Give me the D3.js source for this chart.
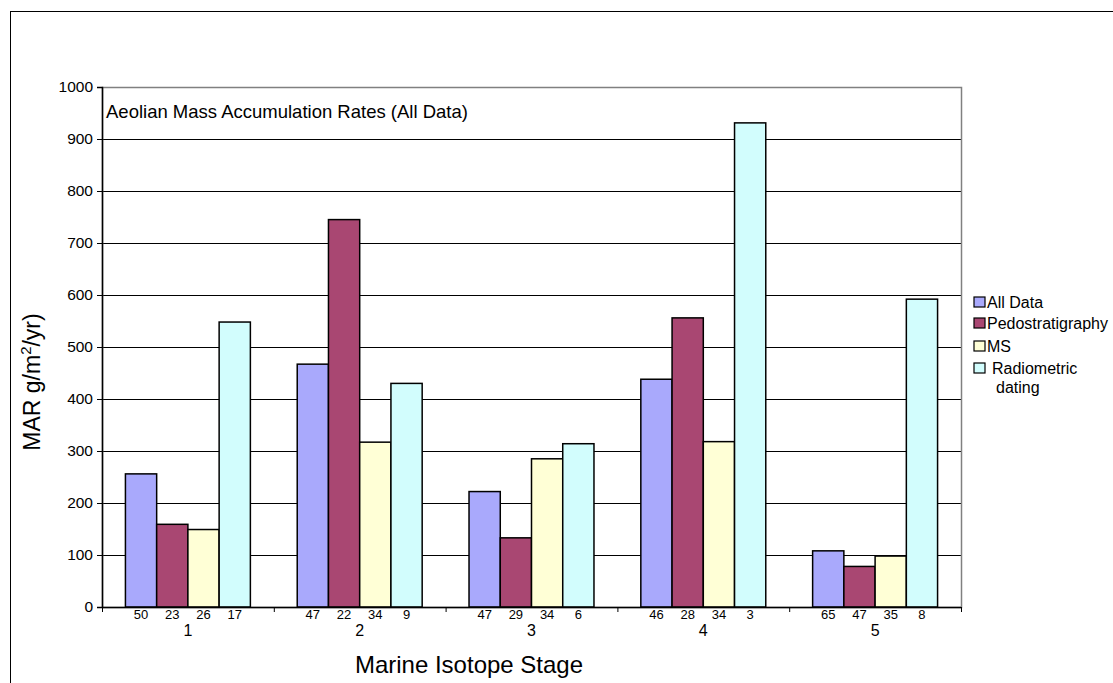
<!DOCTYPE html>
<html><head><meta charset="utf-8">
<script src="https://cdn.jsdelivr.net/npm/d3@7"></script>
<style>body{margin:0;background:#fff;} text{font-family:"Liberation Sans",Arial,sans-serif;}</style>
</head><body>
<svg id="c" width="1113" height="683"></svg>
<script>
const stages = ["1","2","3","4","5"];
const seriesNames = ["All Data","Pedostratigraphy","MS","Radiometric dating"];
const allData = [256, 467, 222, 438, 108];
const pedostratigraphy = [159, 745, 133, 556, 78];
const ms = [149, 317, 285, 318, 98];
const radiometric = [548, 430, 314, 931, 592];
const counts = [[50,23,26,17],[47,22,34,9],[47,29,34,6],[46,28,34,3],[65,47,35,8]];
const yTicks = [0,100,200,300,400,500,600,700,800,900,1000];
const colors = ["#a9a9fc","#a94772","#ffffd6","#d2fdfd"];

const values = [allData, pedostratigraphy, ms, radiometric];
const svg = d3.select("#c");
const L=102, R=961, T=87, B=607;

svg.append("rect").attr("x",10.5).attr("y",11.5).attr("width",1120).attr("height",700)
  .attr("fill","none").attr("stroke","#000").attr("stroke-width",1);

const x0 = d3.scaleBand().domain(stages).range([L,R]).paddingInner(0).paddingOuter(0);
const x1 = d3.scaleBand().domain(d3.range(4)).range([0,x0.bandwidth()]).paddingOuter(0.75).paddingInner(0);
const y = d3.scaleLinear().domain([0,1000]).range([B,T]);

// gridlines
svg.append("g").selectAll("line").data(yTicks.filter(d=>d>0&&d<1000)).join("line")
  .attr("x1",L).attr("x2",R).attr("y1",d=>Math.round(y(d))+0.5).attr("y2",d=>Math.round(y(d))+0.5)
  .attr("stroke","#000").attr("stroke-width",1);
// plot border
svg.append("rect").attr("x",L+0.5).attr("y",T+0.5).attr("width",R-L).attr("height",B-T)
  .attr("fill","none").attr("stroke","#808080").attr("stroke-width",1.5);

// bars
const g = svg.append("g");
stages.forEach((s,i)=>{
  values.forEach((arr,j)=>{
    g.append("rect").attr("x",x0(s)+x1(j)).attr("y",y(arr[i]))
      .attr("width",x1.bandwidth()).attr("height",y(0)-y(arr[i]))
      .attr("fill",colors[j]).attr("stroke","#000").attr("stroke-width",1.5);
    g.append("text").attr("x",x0(s)+x1(j)+x1.bandwidth()/2).attr("y",B+12)
      .attr("text-anchor","middle").attr("font-size",13).text(counts[i][j]);
  });
  g.append("text").attr("x",x0(s)+x0.bandwidth()/2).attr("y",B+29)
    .attr("text-anchor","middle").attr("font-size",16).text(s);
});

// y axis
const ya = svg.append("g").attr("transform",`translate(${L},0)`)
  .call(d3.axisLeft(y).tickValues(yTicks).tickSize(5).tickPadding(4).tickFormat(d3.format("d")));
ya.select(".domain").attr("stroke","#000").attr("stroke-width",1.5);
ya.selectAll("text").attr("font-size",15.5).attr("fill","#000").attr("font-family","Liberation Sans, Arial, sans-serif");
ya.selectAll("line").attr("stroke","#000");

// x axis ticks at boundaries
const bounds = stages.map(s=>x0(s)).concat([R]);
svg.append("g").selectAll("line").data(bounds).join("line")
  .attr("x1",d=>d+0.5).attr("x2",d=>d+0.5).attr("y1",B).attr("y2",B+5).attr("stroke","#000");
svg.append("line").attr("x1",L).attr("x2",R).attr("y1",B+0.5).attr("y2",B+0.5).attr("stroke","#000").attr("stroke-width",1.5);

// titles
svg.append("text").attr("x",106).attr("y",118).attr("font-size",18.5).text("Aeolian Mass Accumulation Rates (All Data)");
svg.append("text").attr("x",469).attr("y",673).attr("text-anchor","middle").attr("font-size",24).text("Marine Isotope Stage");
const yt = svg.append("text").attr("transform",`translate(40,382) rotate(-90)`).attr("text-anchor","middle").attr("font-size",23);
yt.append("tspan").text("MAR g/m");
yt.append("tspan").attr("font-size",15).attr("dy",-9).text("2");
yt.append("tspan").attr("dy",9).text("/yr)");

// legend
const lg = svg.append("g");
const ly = [302,323,346,368];
seriesNames.forEach((n,j)=>{
  lg.append("rect").attr("x",974).attr("y",ly[j]-5).attr("width",11).attr("height",10)
    .attr("fill",colors[j]).attr("stroke","#000").attr("stroke-width",1.2);
  if(j<3){
    lg.append("text").attr("x",987).attr("y",ly[j]+6).attr("font-size",16).text(n);
  }
});
lg.append("text").attr("x",992).attr("y",ly[3]+6).attr("font-size",16).text("Radiometric");
lg.append("text").attr("x",996).attr("y",ly[3]+25).attr("font-size",16).text("dating");
</script>
</body></html>
